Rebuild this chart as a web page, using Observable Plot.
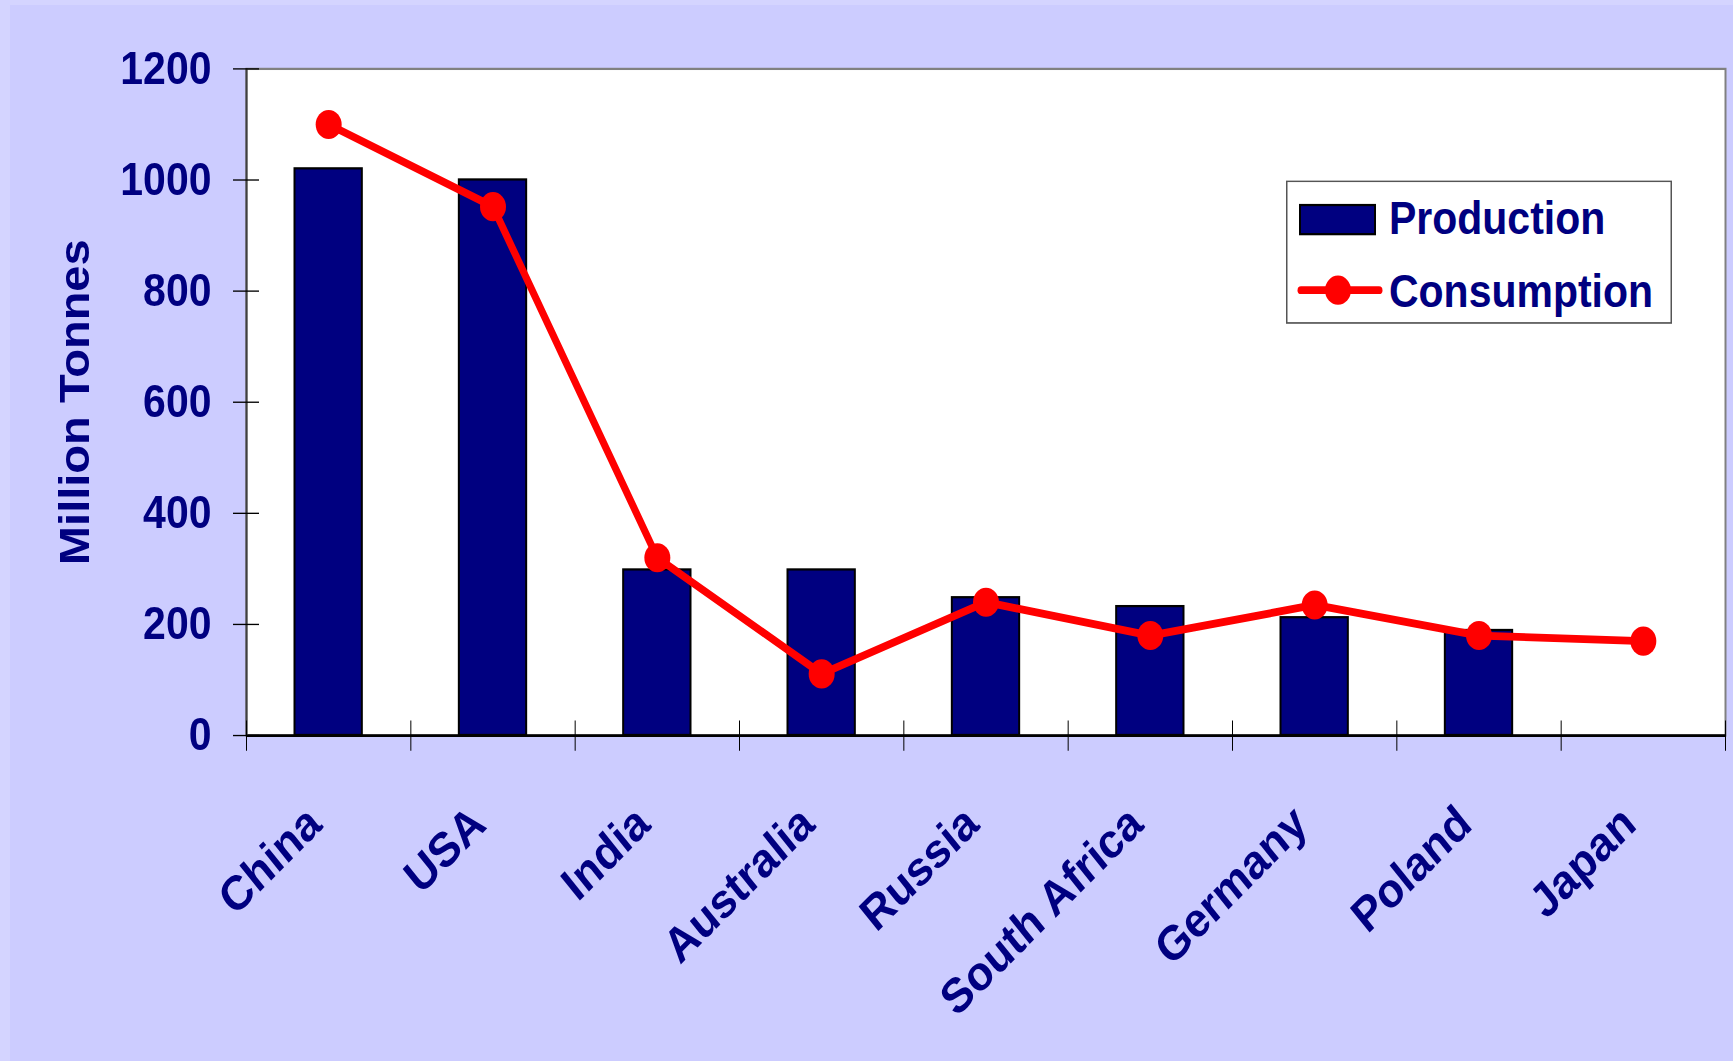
<!DOCTYPE html>
<html>
<head>
<meta charset="utf-8">
<script src="https://cdn.jsdelivr.net/npm/d3@7"></script>
<script src="https://cdn.jsdelivr.net/npm/@observablehq/plot@0.6"></script>
<style>
  html, body { margin: 0; padding: 0; }
  body { width: 1733px; height: 1061px; overflow: hidden; background: #D4D4FF; position: relative; font-family: "Liberation Sans", Arial, sans-serif; }
  #inner { position: absolute; left: 10px; top: 5px; right: 0; bottom: 0; background: #CCCCFF; }
  #wrap { position: absolute; left: 0; top: 0; width: 1733px; height: 947px; transform: scaleY(1.1204); transform-origin: 0 0; }
</style>
</head>
<body>
<div id="inner"></div>
<div id="wrap"></div>
<script>
const categories = ["China", "USA", "India", "Australia", "Russia", "South Africa", "Germany", "Poland", "Japan"];
const production = [1020, 1000, 298, 298, 248, 232, 212, 189, null];
const consumption = [1100, 952, 320, 111, 240, 180, 235, 180, 170];
const yTicks = [0, 200, 400, 600, 800, 1000, 1200];
const seriesNames = ["Production", "Consumption"];
const yTitle = "Million Tonnes";

const navy = "#000080";
const font = "Liberation Sans, Arial, sans-serif";

const prodData = categories.map((c, i) => ({i, c, value: production[i]})).filter(d => d.value != null);
const consData = categories.map((c, i) => ({i, c, value: consumption[i]}));

const chart = Plot.plot({
  width: 1733,
  height: 947,
  marginLeft: 246,
  marginRight: 8,
  marginTop: 61,
  marginBottom: 291,
  style: {background: "transparent", overflow: "visible", fontFamily: font},
  x: {type: "linear", domain: [0, categories.length], axis: null, label: null},
  y: {domain: [0, 1200], axis: null, label: null},
  marks: [
    Plot.frame({fill: "white", stroke: "#808080", strokeWidth: 2}),
    Plot.rectY(prodData, {x1: "i", x2: d => d.i + 1, y: "value", insetLeft: 48.5, insetRight: 48.5, fill: navy, stroke: "black", strokeWidth: 2}),
    Plot.ruleY([0], {stroke: "black", strokeWidth: 2.5}),
    Plot.ruleX([0], {stroke: "#404040", strokeWidth: 2}),
    Plot.axisY({ticks: yTicks, tickSize: 26, dx: 13, tickFormat: () => "", label: null, stroke: "black", strokeWidth: 1.2}),
    Plot.axisY({ticks: yTicks, tickSize: 0, tickPadding: 35, tickFormat: d3.format("d"), label: null, fontSize: 41, fontWeight: "bold", fill: navy, fontFamily: font}),
    Plot.axisX({ticks: d3.range(categories.length + 1), tickSize: 27, dy: -13, tickFormat: () => "", label: null, stroke: "black", strokeWidth: 1}),
    Plot.line(consData, {x: d => d.i + 0.5, y: "value", stroke: "red", strokeWidth: 7, strokeLinejoin: "round"}),
    Plot.dot(consData, {x: d => d.i + 0.5, y: "value", r: 13, fill: "red", stroke: "none"}),
    Plot.text(categories, {x: (d, i) => i + 0.5, text: d => d, frameAnchor: "bottom", dx: -5, dy: 82, rotate: -42, textAnchor: "end", lineAnchor: "bottom", fontSize: 43, fontWeight: "bold", fill: navy, fontFamily: font}),
    Plot.text([yTitle], {text: d => d, frameAnchor: "left", dx: -171, rotate: -90, textAnchor: "middle", lineAnchor: "middle", fontSize: 42, fontWeight: "bold", fill: navy, fontFamily: font})
  ]
});
const wrap = document.getElementById("wrap");
wrap.appendChild(chart);

// Legend (inside plot area, as in reference)
const lw = 386, lh = 128;
const legend = d3.create("svg").attr("width", lw).attr("height", lh)
  .style("position", "absolute").style("left", "1286px").style("top", "161px").style("overflow", "visible");
legend.append("rect").attr("x", 0.75).attr("y", 0.75).attr("width", lw - 1.5).attr("height", lh - 1.5)
  .attr("fill", "white").attr("stroke", "#555").attr("stroke-width", 1.5);
legend.append("rect").attr("x", 14).attr("y", 22).attr("width", 75).attr("height", 26)
  .attr("fill", navy).attr("stroke", "black").attr("stroke-width", 2);
legend.append("line").attr("x1", 15).attr("x2", 93).attr("y1", 98).attr("y2", 98)
  .attr("stroke", "red").attr("stroke-width", 7).attr("stroke-linecap", "round");
legend.append("circle").attr("cx", 52).attr("cy", 98).attr("r", 13).attr("fill", "red");
legend.selectAll("text.lbl").data(seriesNames).join("text")
  .attr("x", 103).attr("y", (d, i) => i === 0 ? 48 : 113)
  .attr("font-size", 41).attr("font-weight", "bold").attr("fill", navy).attr("font-family", font)
  .text(d => d);
wrap.appendChild(legend.node());
</script>
</body>
</html>
